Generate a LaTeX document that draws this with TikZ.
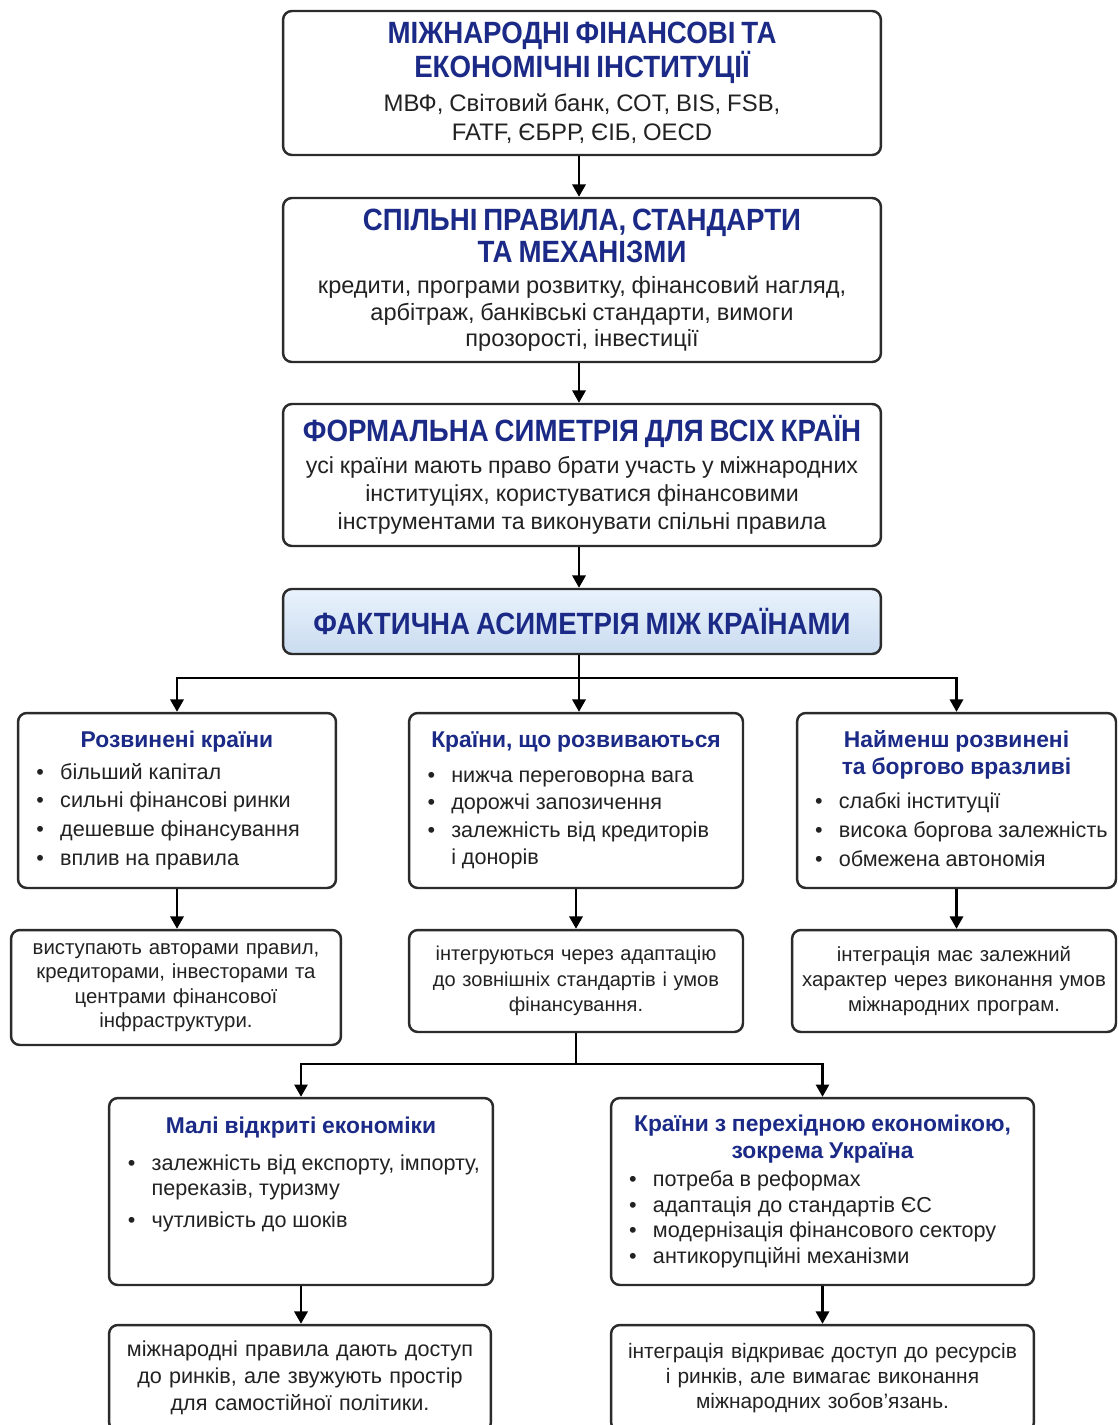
\documentclass[tikz,border=0pt]{standalone}
\usepackage{fontspec}
\setmainfont{Liberation Sans}
\newfontfamily\headfont[FakeStretch=0.9]{Liberation Sans}
\usetikzlibrary{arrows.meta}
\definecolor{navy}{HTML}{1B2A86}
\definecolor{ink}{HTML}{222222}
\definecolor{boxline}{HTML}{2B2B2B}
\definecolor{paletop}{HTML}{E9F2FC}
\definecolor{palebot}{HTML}{CADCF0}
\lineskiplimit=-20pt
\newcommand\bigttl{\headfont\bfseries\color{navy}\fontsize{17.5}{18.1}\selectfont}
\newcommand\subttl{\bfseries\color{navy}\fontsize{13}{15.3}\selectfont}
\newcommand\itm[1]{\noindent\mbox{\textbullet\hspace{0.75em}#1}\par}
\newcommand\cnt[1]{\noindent\mbox{\phantom{\textbullet}\hspace{0.75em}#1}\par}

\begin{document}
\begin{tikzpicture}[x=0.02cm, y=-0.02cm,
  blk/.style={draw=boxline, line width=1.4pt, rounded corners=5pt, fill=white,
    text=ink, inner xsep=4pt, inner ysep=0pt, align=center},
  lst/.style={blk, inner xsep=10pt, align=left},
  arr/.style={draw=black, line width=1.4pt, -{Triangle[length=7pt,width=7.5pt]}}]
  %%%%% START %%%%%
  \useasboundingbox (0,0) rectangle (1118,1425);
  \coordinate (axis) at (579,0);

  % top chain
  \node[blk, minimum width=11.96cm, minimum height=2.88cm, text width=331pt] (inst) at (582,83)
    {{\bigttl МІЖНАРОДНІ ФІНАНСОВІ ТА\\ЕКОНОМІЧНІ ІНСТИТУЦІЇ\par}\vspace{3pt}
     \fontsize{13.6}{16.4}\selectfont МВФ, Світовий банк, СОТ, BIS, FSB,\\FATF, ЄБРР, ЄІБ, OECD\par};
  \node[blk, minimum width=11.96cm, minimum height=3.28cm, text width=331pt] (rules) at (582,280)
    {{\bigttl СПІЛЬНІ ПРАВИЛА, СТАНДАРТИ\\ТА МЕХАНІЗМИ\par}\vspace{3pt}
     \fontsize{13.4}{15}\selectfont кредити, програми розвитку, фінансовий нагляд,\\
     арбітраж, банківські стандарти, вимоги\\прозорості, інвестиції\par};
  \node[blk, minimum width=11.96cm, minimum height=2.84cm, text width=331pt] (sym) at (582,475)
    {{\bigttl ФОРМАЛЬНА СИМЕТРІЯ ДЛЯ ВСІХ КРАЇН\par}\vspace{2.5pt}
     \fontsize{13.2}{15.9}\selectfont усі країни мають право брати участь у міжнародних\\
     інституціях, користуватися фінансовими\\інструментами та виконувати спільні правила\par};
  \node[blk, top color=paletop, bottom color=palebot, minimum width=11.96cm, minimum height=1.3cm,
    text width=331pt] (asym) at (582,621.5)
    {\bigttl ФАКТИЧНА АСИМЕТРІЯ МІЖ КРАЇНАМИ\par};

  \draw[arr] (inst.south -| axis) -- (rules.north -| axis);
  \draw[arr] (rules.south -| axis) -- (sym.north -| axis);
  \draw[arr] (sym.south -| axis) -- (asym.north -| axis);

  % three groups
  \node[lst, minimum width=6.36cm, minimum height=3.5cm, text width=160pt] (dev) at (177,800.5)
    {{\centering\subttl Розвинені країни\par}\vspace{1.5pt}
     \fontsize{12.3}{16.4}\selectfont
     \itm{більший капітал}\itm{сильні фінансові ринки}\itm{дешевше фінансування}\itm{вплив на правила}};
  \node[lst, minimum width=6.68cm, minimum height=3.5cm, text width=169pt] (emg) at (576,800.5)
    {{\centering\subttl Країни, що розвиваються\par}\vspace{4pt}
     \fontsize{12.3}{15.7}\selectfont
     \itm{нижча переговорна вага}\itm{дорожчі запозичення}\itm{залежність від кредиторів}\cnt{і донорів}};
  \node[lst, minimum width=6.38cm, minimum height=3.5cm, text width=161pt] (ldc) at (956.5,800.5)
    {{\centering\subttl Найменш розвинені\\та боргово вразливі\par}\vspace{3pt}
     \fontsize{12.3}{16.4}\selectfont
     \itm{слабкі інституції}\itm{висока боргова залежність}\itm{обмежена автономія}\vspace{2pt}};

  \coordinate (fork) at (579,678);
  \draw[line width=1.4pt] (asym.south -| fork) -- (fork);
  \draw[arr] (fork) -| (dev.north);
  \draw[arr] (fork) -- (emg.north -| fork);
  \draw[arr] (fork) -| (ldc.north);

  % outcomes
  \node[blk, minimum width=6.6cm, minimum height=2.3cm, text width=179pt,
    font=\fontsize{11.6}{13.8}\selectfont] (devout) at (176,987.5)
    {виступають авторами правил,\\кредиторами, інвесторами та\\центрами фінансової\\інфраструктури.};
  \node[blk, minimum width=6.68cm, minimum height=2.04cm, text width=181pt,
    font=\fontsize{11.4}{14.5}\selectfont] (emgout) at (576,981)
    {інтегруються через адаптацію\\до зовнішніх стандартів і умов\\фінансування.};
  \node[blk, minimum width=6.48cm, minimum height=2.04cm, text width=175pt,
    font=\fontsize{11.6}{14}\selectfont] (ldcout) at (954,981)
    {інтеграція має залежний\\характер через виконання умов\\міжнародних програм.};

  \draw[arr] (dev) -- (dev |- devout.north);
  \draw[arr] (emg) -- (emgout);
  \draw[arr] (ldc) -- (ldc |- ldcout.north);

  % second split
  \coordinate (fork2) at (576,1064);
  \draw[line width=1.4pt] (emgout) -- (fork2);

  \node[lst, minimum width=7.68cm, minimum height=3.74cm, text width=197pt] (small) at (301,1191.5)
    {{\centering\subttl Малі відкриті економіки\par}\vspace{6pt}
     \fontsize{12.3}{14.7}\selectfont
     \itm{залежність від експорту, імпорту,}\cnt{переказів, туризму}\vspace{3.5pt}
     \itm{чутливість до шоків}\vspace{19pt}};
  \node[lst, minimum width=8.46cm, minimum height=3.74cm, text width=220pt] (trans) at (822.5,1191.5)
    {{\centering\subttl Країни з перехідною економікою,\\зокрема Україна\par}\vspace{1.5pt}
     \fontsize{12.3}{14.6}\selectfont
     \itm{потреба в реформах}\itm{адаптація до стандартів ЄС}
     \itm{модернізація фінансового сектору}\itm{антикорупційні механізми}};

  \draw[arr] (fork2) -| (small.north);
  \draw[arr] (fork2) -| (trans.north);

  \node[blk, minimum width=7.64cm, minimum height=2.12cm, text width=208pt,
    font=\fontsize{12.3}{15.3}\selectfont] (smallout) at (300,1378)
    {міжнародні правила дають доступ\\до ринків, але звужують простір\\для самостійної політики.};
  \node[blk, minimum width=8.46cm, minimum height=2.12cm, text width=231pt,
    font=\fontsize{11.9}{14.3}\selectfont] (transout) at (822.5,1378)
    {інтеграція відкриває доступ до ресурсів\\і ринків, але вимагає виконання\\міжнародних зобов'язань.};

  \draw[arr] (small) -- (small |- smallout.north);
  \draw[arr] (trans) -- (trans |- transout.north);
  %%%%% END %%%%%
\end{tikzpicture}
\end{document}
